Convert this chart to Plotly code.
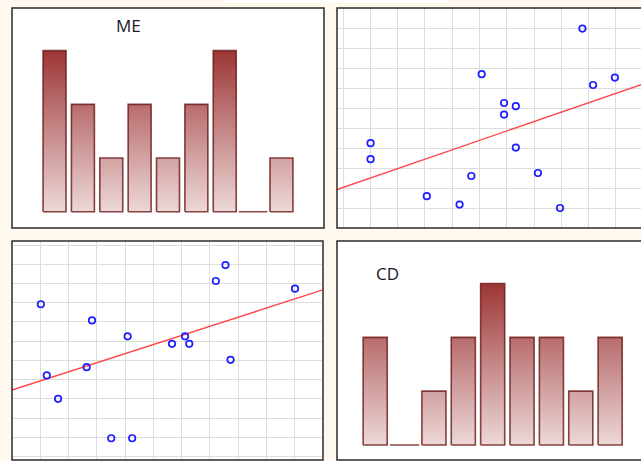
import numpy as np
import plotly.graph_objects as go

W, H = 641, 461

# Bar panels
me_values = [3, 2, 1, 2, 1, 2, 3, 0, 1]
cd_values = [2, 0, 1, 2, 3, 2, 2, 1, 2]

# Scatter panels
sa_x = [1.01, 1.01, 3.07, 4.27, 4.70, 5.08, 5.90, 5.90, 6.33, 6.33, 7.14, 7.95, 8.77, 9.16, 9.96]
sa_y = [4.24, 3.44, 1.59, 1.17, 2.60, 7.69, 6.25, 5.67, 6.09, 4.02, 2.75, 1.00, 9.97, 7.15, 7.52]
sb_x = [1.02, 1.23, 1.63, 2.64, 2.83, 3.51, 4.09, 4.25, 5.66, 6.12, 6.27, 7.21, 7.55, 7.73, 10.01]
sb_y = [7.92, 4.22, 3.00, 4.65, 7.08, 0.95, 6.25, 0.95, 5.86, 6.25, 5.86, 9.13, 9.96, 5.03, 8.73]

BG = "#fef8ee"
BORDER = "#2b2b2b"
GRID = "#dddddd"
BAR_SCALE = [[0, "rgb(237,216,216)"], [1, "rgb(157,54,54)"]]


def px_x(p):
    return p / W


def px_y(p):
    return 1 - p / H


def bar_outline(values, width=0.81):
    xs, ys = [], []
    for i, v in enumerate(values):
        w = 1.0 if v == 0 else width
        x0, x1 = i - w / 2, i + w / 2
        xs += [x0, x0, x1, x1, x0, None]
        ys += [0, v, v, 0, 0, None]
    return xs, ys


fig = go.Figure()

# ME bars (top left)
bx, by = bar_outline(me_values)
fig.add_trace(go.Scatter(
    x=bx, y=by, xaxis="x", yaxis="y", mode="lines", fill="toself",
    fillgradient=dict(type="vertical", colorscale=BAR_SCALE, start=0, stop=3),
    line=dict(color="rgba(105,22,22,0.8)", width=1.6),
    hoverinfo="skip", showlegend=False,
))

# CD bars (bottom right)
bx, by = bar_outline(cd_values, width=0.82)
fig.add_trace(go.Scatter(
    x=bx, y=by, xaxis="x4", yaxis="y4", mode="lines", fill="toself",
    fillgradient=dict(type="vertical", colorscale=BAR_SCALE, start=0, stop=3),
    line=dict(color="rgba(105,22,22,0.8)", width=1.6),
    hoverinfo="skip", showlegend=False,
))


def scatter_with_fit(xs, ys, xa, ya, xr):
    slope, icpt = np.polyfit(xs, ys, 1)
    lx = np.array(xr)
    fig.add_trace(go.Scatter(
        x=lx, y=slope * lx + icpt, xaxis=xa, yaxis=ya, mode="lines",
        line=dict(color="rgba(255,50,50,0.9)", width=1.4),
        hoverinfo="skip", showlegend=False,
    ))
    fig.add_trace(go.Scatter(
        x=xs, y=ys, xaxis=xa, yaxis=ya, mode="markers",
        marker=dict(symbol="circle-open", size=6.5, color="#1e1eff",
                    line=dict(width=1.7, color="#1e1eff")),
        showlegend=False,
    ))


sa_range = [-0.22, 11.4]
sb_range = [0, 11]
scatter_with_fit(sa_x, sa_y, "x2", "y2", sa_range)
scatter_with_fit(sb_x, sb_y, "x3", "y3", sb_range)

hidden = dict(showgrid=False, zeroline=False, showticklabels=False, ticks="",
              fixedrange=True)
gridded = dict(showgrid=True, gridcolor=GRID, gridwidth=1.2, dtick=1, tick0=0,
               zeroline=False, showticklabels=False, ticks="", fixedrange=True)

fig.update_layout(
    width=W, height=H, autosize=False,
    margin=dict(l=0, r=0, t=0, b=0, pad=0),
    paper_bgcolor=BG, plot_bgcolor="white",
    xaxis=dict(domain=[px_x(12), px_x(324)], range=[-1.5, 9.5], anchor="y", **hidden),
    yaxis=dict(domain=[px_y(228), px_y(8)], range=[-0.304, 3.795], anchor="x", **hidden),
    xaxis2=dict(domain=[px_x(337), 1], range=[-0.22, 10.916], anchor="y2", **gridded),
    yaxis2=dict(domain=[px_y(228), px_y(8)], range=[0, 11], anchor="x2", **gridded),
    xaxis3=dict(domain=[px_x(12), px_x(323)], range=sb_range, anchor="y3", **gridded),
    yaxis3=dict(domain=[px_y(460), px_y(241)], range=[-0.18, 11.21], anchor="x3", **gridded),
    xaxis4=dict(domain=[px_x(337), 1], range=[-1.30, 9.05], anchor="y4", **hidden),
    yaxis4=dict(domain=[px_y(460), px_y(241)], range=[-0.279, 3.79], anchor="x4", **hidden),
)

# Panel frames
frames = [(12, 8, 324, 228), (337, 8, 649, 228), (12, 241, 323, 460), (337, 241, 649, 460)]
shapes = [dict(type="rect", xref="paper", yref="paper",
               x0=px_x(225), x1=px_x(448), y0=px_y(2.5), y1=1,
               fillcolor="white", line=dict(width=0), layer="below")]
for x0, y0, x1, y1 in frames:
    shapes.append(dict(type="rect", xref="paper", yref="paper",
                       x0=px_x(x0), x1=px_x(x1), y0=px_y(y1), y1=px_y(y0),
                       line=dict(color=BORDER, width=1.5), fillcolor="rgba(0,0,0,0)"))
fig.update_layout(shapes=shapes)

title_font = dict(family="Open Sans, Segoe UI, sans-serif", size=17, color="#18182a")
fig.add_annotation(text="ME", xref="paper", yref="paper", x=px_x(128.5), y=px_y(25.5),
                   showarrow=False, font=title_font, xanchor="center", yanchor="middle")
fig.add_annotation(text="CD", xref="paper", yref="paper", x=px_x(387.5), y=px_y(273.5),
                   showarrow=False, font=title_font, xanchor="center", yanchor="middle")

fig.write_html("out.html")
